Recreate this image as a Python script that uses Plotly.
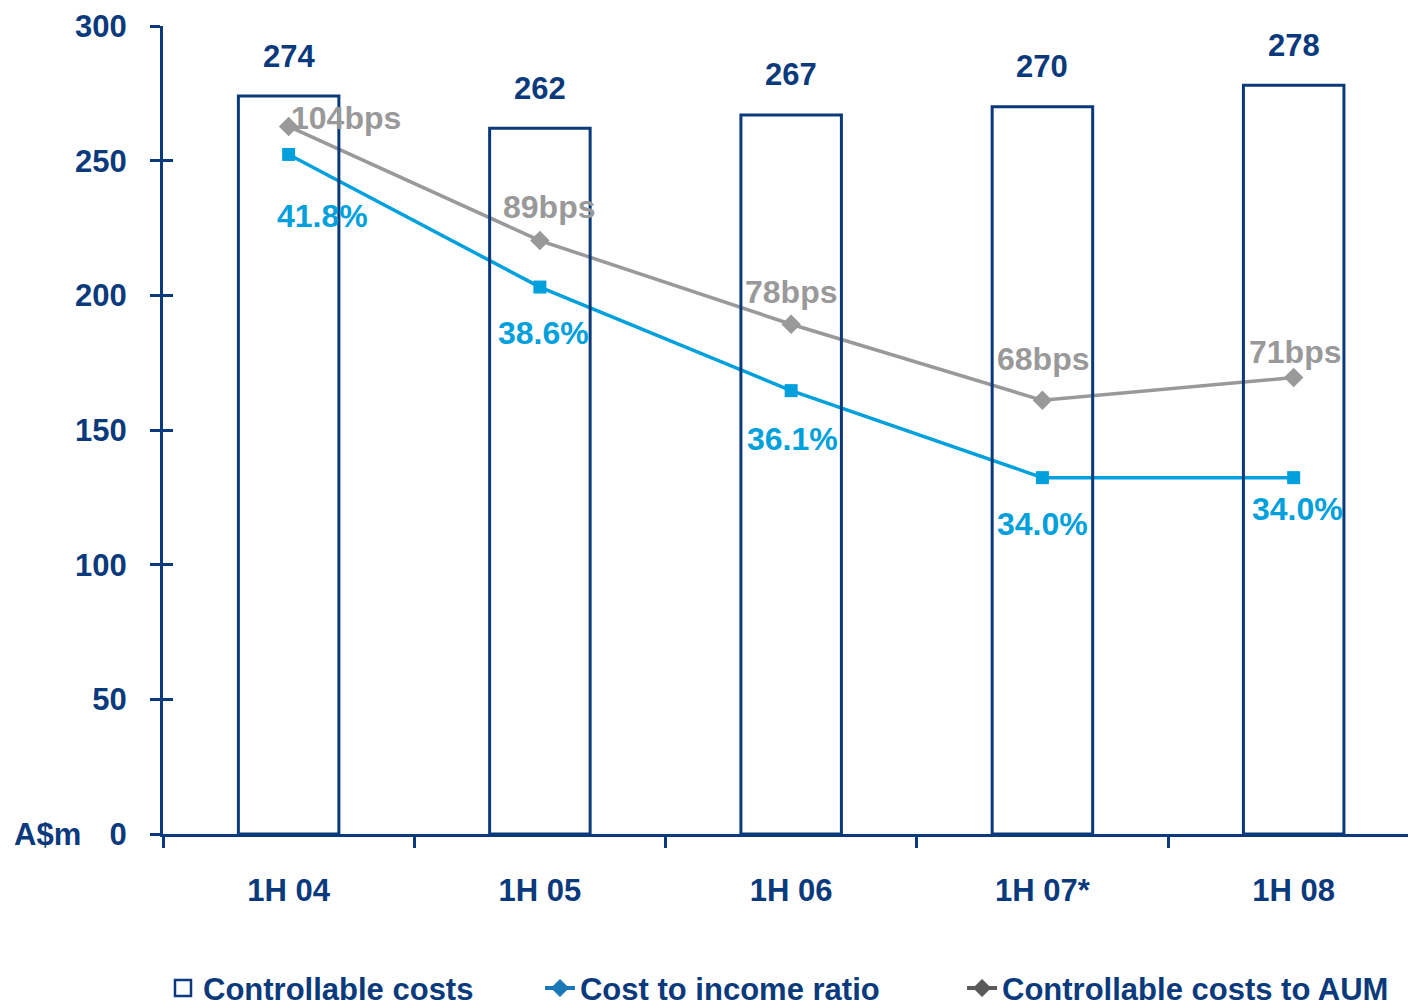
import plotly.graph_objects as go

# ---- data ----
categories = ["1H 04", "1H 05", "1H 06", "1H 07*", "1H 08"]
controllable_costs = [274, 262, 267, 270, 278]          # A$m
cost_to_income_pct = [41.8, 38.6, 36.1, 34.0, 34.0]     # %
costs_to_aum_bps = [104, 89, 78, 68, 71]                # bps
y_ticks = [0, 50, 100, 150, 200, 250, 300]

# ---- style ----
NAVY = "#0a3a7c"
BLUE = "#00a0dc"
GRAY = "#999999"
LEG_BLUE = "#1878b8"
LEG_GRAY = "#5a5a5a"
FONT = "Liberation Sans, Arial, sans-serif"
FS = 31

# label offsets (px) for the line labels
gray_label_shift = [(57, 8), (9, 34), (0, 32), (1, 41), (1, 26)]
blue_label_shift = [(34, -62), (4, -46), (1, -48), (0, -46), (4, -31)]

fig = go.Figure()

# cost to income ratio (hidden scale on y)
fig.add_trace(go.Scatter(
    x=categories, y=cost_to_income_pct, yaxis="y", mode="lines+markers",
    line=dict(color=BLUE, width=3.5), marker=dict(symbol="square", size=13, color=BLUE),
    showlegend=False, hoverinfo="skip"))

# controllable costs to AUM (hidden scale on y2)
fig.add_trace(go.Scatter(
    x=categories, y=costs_to_aum_bps, yaxis="y2", mode="lines+markers",
    line=dict(color=GRAY, width=3.5), marker=dict(symbol="diamond", size=15, color=GRAY),
    showlegend=False, hoverinfo="skip"))

# controllable costs bars (visible scale on y3)
fig.add_trace(go.Bar(
    x=categories, y=controllable_costs, yaxis="y3", width=0.4,
    marker=dict(color="rgba(0,0,0,0)", line=dict(color=NAVY, width=3)),
    name="Controllable costs", showlegend=False, hoverinfo="skip"))

# legend-only entries
fig.add_trace(go.Scatter(
    x=[None], y=[None], yaxis="y", mode="markers", name="Controllable costs",
    legend="legend",
    marker=dict(symbol="square-open", size=30, color=NAVY, line=dict(width=2.5, color=NAVY))))
fig.add_trace(go.Scatter(
    x=[None], y=[None], yaxis="y", mode="lines+markers", name="Cost to income ratio",
    legend="legend2",
    line=dict(color=LEG_BLUE, width=4), marker=dict(symbol="diamond", size=14, color=LEG_BLUE)))
fig.add_trace(go.Scatter(
    x=[None], y=[None], yaxis="y", mode="lines+markers", name="Controllable costs to AUM",
    legend="legend3",
    line=dict(color=LEG_GRAY, width=4), marker=dict(symbol="diamond", size=14, color=LEG_GRAY)))

# scale on y4 only for the inner half of the y ticks
fig.add_trace(go.Scatter(x=[None], y=[None], yaxis="y4", showlegend=False, hoverinfo="skip"))

annotations = []
for c, v in zip(categories, controllable_costs):
    annotations.append(dict(x=c, y=v, xref="x", yref="y3", text=str(v), showarrow=False,
                            yshift=40, font=dict(family=FONT, size=FS, color=NAVY, weight="bold")))
for c, v, (dx, dy) in zip(categories, costs_to_aum_bps, gray_label_shift):
    annotations.append(dict(x=c, y=v, xref="x", yref="y2", text=f"{v}bps", showarrow=False,
                            xshift=dx, yshift=dy,
                            font=dict(family=FONT, size=FS + 1, color=GRAY, weight="bold")))
for c, v, (dx, dy) in zip(categories, cost_to_income_pct, blue_label_shift):
    annotations.append(dict(x=c, y=v, xref="x", yref="y", text=f"{v:.1f}%", showarrow=False,
                            xshift=dx, yshift=dy,
                            font=dict(family=FONT, size=FS + 1, color=BLUE, weight="bold")))
annotations.append(dict(x=-0.0924, y=0, xref="paper", yref="y3", text="A$m", showarrow=False,
                        xanchor="center", yanchor="middle",
                        font=dict(family=FONT, size=FS, color=NAVY, weight="bold")))

legend_common = dict(orientation="h", xanchor="left", y=-0.191, yanchor="middle",
                     font=dict(family=FONT, size=FS, color=NAVY, weight="bold"),
                     bgcolor="rgba(0,0,0,0)")

fig.update_layout(
    width=1408, height=1008,
    margin=dict(l=163, r=0, t=26, b=174, pad=0, autoexpand=False),
    paper_bgcolor="white", plot_bgcolor="white",
    font=dict(family=FONT, size=FS, color=NAVY),
    barmode="overlay",
    xaxis=dict(type="category", range=[-0.5, 4.455], tickson="boundaries",
               ticks="outside", ticklen=11, tickwidth=3, tickcolor=NAVY,
               showline=True, linewidth=3, linecolor=NAVY, showgrid=False, zeroline=False,
               tickfont=dict(family=FONT, size=FS, color=NAVY, weight="bold"),
               ticklabelstandoff=27),
    yaxis=dict(range=[25.4, 44.9], visible=False),
    yaxis2=dict(range=[11.0, 117.2], overlaying="y", visible=False),
    yaxis3=dict(range=[0, 300], overlaying="y", side="left", anchor="x",
                tickvals=y_ticks, ticks="outside", ticklen=10, tickwidth=3, tickcolor=NAVY,
                showline=True, linewidth=3, linecolor=NAVY, showgrid=False, zeroline=False,
                tickfont=dict(family=FONT, size=FS, color=NAVY, weight="bold"),
                ticklabelstandoff=17),
    yaxis4=dict(range=[0, 300], overlaying="y", side="left", anchor="x",
                tickvals=y_ticks, ticks="inside", ticklen=10, tickwidth=3, tickcolor=NAVY,
                showticklabels=False, showline=False, showgrid=False, zeroline=False),
    legend=dict(x=0.0, itemsizing="trace", **legend_common),
    legend2=dict(x=0.3028, **legend_common),
    legend3=dict(x=0.6418, **legend_common),
    annotations=annotations,
)

fig.write_html("out.html")
